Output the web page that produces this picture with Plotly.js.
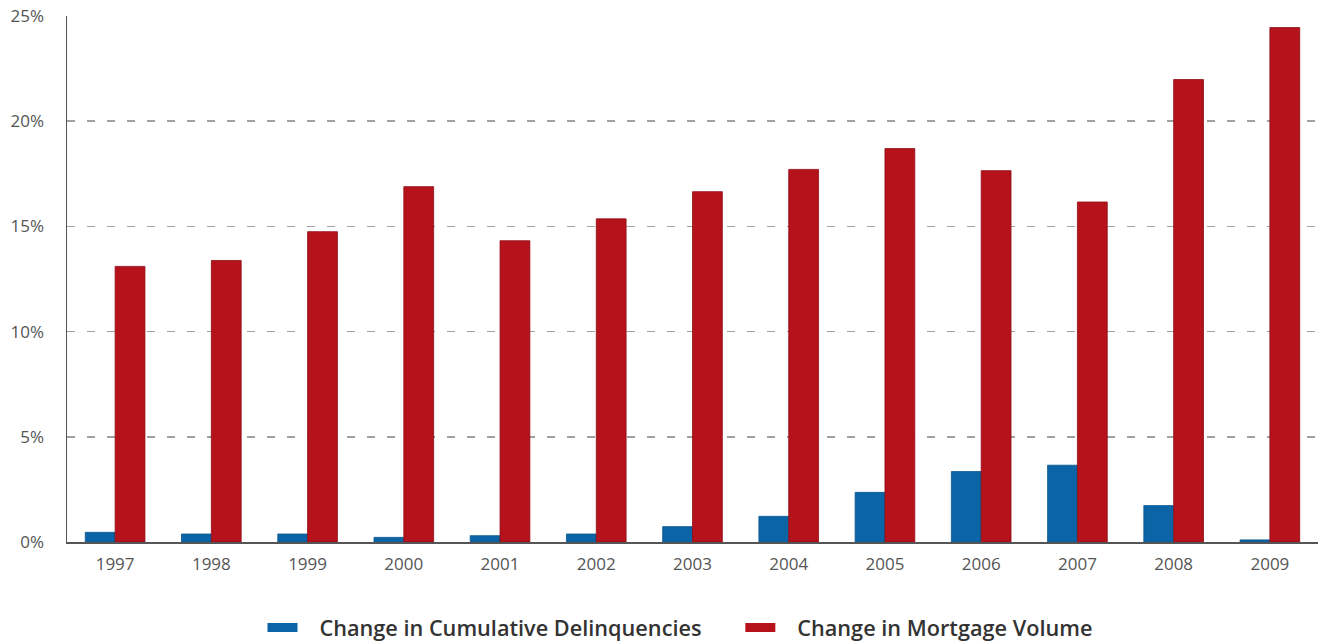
<!DOCTYPE html>
<html>
<head>
<meta charset="utf-8">
<script src="https://cdn.plot.ly/plotly-3.0.1.min.js"></script>
<style>html,body{margin:0;padding:0;background:#fff;}#chart{width:1318px;height:642px;}</style>
</head>
<body>
<div id="chart"></div>
<script>
const years = ['1997','1998','1999','2000','2001','2002','2003','2004','2005','2006','2007','2008','2009'];
const delinquencies = [0.46, 0.38, 0.38, 0.22, 0.30, 0.38, 0.73, 1.22, 2.36, 3.35, 3.65, 1.73, 0.10];
const mortgageVolume = [13.10, 13.38, 14.75, 16.89, 14.32, 15.36, 16.65, 17.71, 18.70, 17.65, 16.16, 21.98, 24.45];
const seriesNames = ['Change in Cumulative Delinquencies', 'Change in Mortgage Volume'];
const yTicks = [0, 5, 10, 15, 20, 25];

const BLUE = '#0a64a5';
const RED = '#b5121b';
const NB = '\u00a0\u00a0\u00a0';
const TRAIL = '\u00a0\u00a0\u00a0\u00a0\u00a0\u00a0';

const traces = [
  {type:'bar', x: years, y: delinquencies, name: seriesNames[0], showlegend:false,
   marker:{color: BLUE, line:{color:'#0a5690', width:0.8}}, hoverinfo:'x+y'},
  {type:'bar', x: years, y: mortgageVolume, name: seriesNames[1], showlegend:false,
   marker:{color: RED, line:{color:'#8e0d15', width:0.8}}, hoverinfo:'x+y'},
  {type:'scatter', mode:'lines', x:[null], y:[null], name: NB + seriesNames[0] + TRAIL,
   line:{color: BLUE, width: 9}, showlegend:true},
  {type:'scatter', mode:'lines', x:[null], y:[null], name: NB + seriesNames[1],
   line:{color: RED, width: 9}, showlegend:true}
];

const layout = {
  width: 1318, height: 642,
  margin: {l: 67, r: 0, t: 16, b: 100, autoexpand: false},
  paper_bgcolor: '#fff', plot_bgcolor: '#fff',
  barmode: 'group', bargap: 0.38, bargroupgap: 0,
  font: {family: '"Open Sans", sans-serif', color: '#555'},
  xaxis: {
    type: 'category', categoryorder: 'array', categoryarray: years,
    range: [-0.5, 12.5], showgrid: false, zeroline: false,
    showline: true, linecolor: '#555', linewidth: 1.5,
    ticks: '', tickfont: {size: 17, color: '#555'}, ticklabelstandoff: 6, fixedrange: true
  },
  yaxis: {
    range: [0, 25], tickvals: yTicks, ticktext: yTicks.map(v => v + '%'),
    showgrid: true, gridcolor: '#a0a0a0', gridwidth: 1.6, griddash: '8px,12px',
    zeroline: false, showline: true, linecolor: '#555', linewidth: 1.5,
    ticks: '', tickfont: {size: 17, color: '#555'}, ticklabelstandoff: 18, fixedrange: true
  },
  showlegend: true,
  legend: {
    orientation: 'h', x: 0.49, xanchor: 'center', y: -0.1635, yanchor: 'middle',
    font: {family: '"Open Sans", sans-serif', size: 21.7, color: '#333', weight: 600},
    itemwidth: 30, bgcolor: 'rgba(0,0,0,0)'
  }
};

Plotly.newPlot('chart', traces, layout, {displayModeBar: false, staticPlot: true});
</script>
</body>
</html>
